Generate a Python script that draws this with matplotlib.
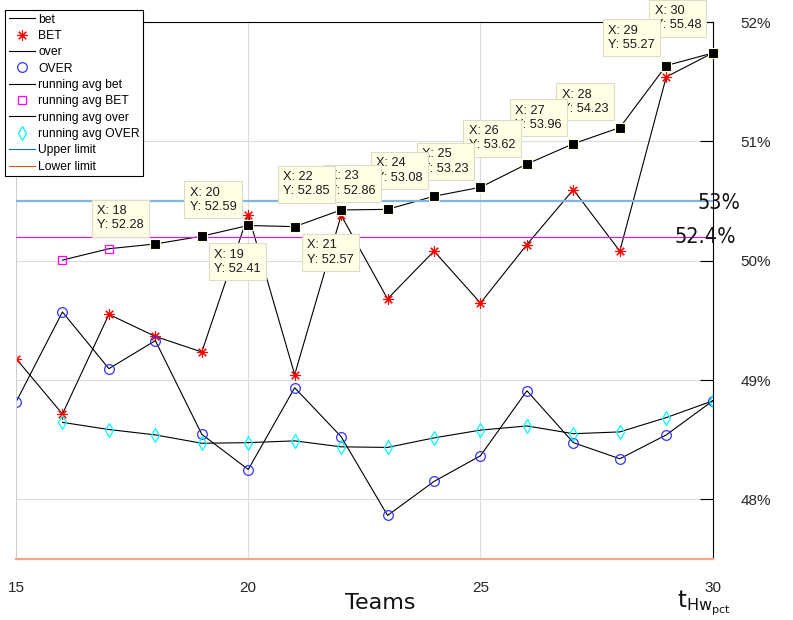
import matplotlib
matplotlib.use('Agg')
import matplotlib.pyplot as plt
from matplotlib.lines import Line2D

# ---------------- data ----------------
teams = list(range(15, 31))
bet = [50.36, 49.43, 51.10, 50.73, 50.47, 52.77, 50.09, 52.76,
       51.36, 52.16, 51.29, 52.27, 53.19, 52.16, 55.08, 55.48]
over = [49.63, 51.14, 50.19, 50.66, 49.09, 48.50, 49.87, 49.05,
        47.73, 48.30, 48.73, 49.82, 48.95, 48.68, 49.08, 49.65]
avg_teams = list(range(16, 31))
run_avg_bet = [52.01, 52.20, 52.28, 52.41, 52.59, 52.57, 52.85, 52.86,
               53.08, 53.23, 53.62, 53.96, 54.23, 55.27, 55.48]
run_avg_over = [49.29, 49.17, 49.08, 48.94, 48.95, 48.98, 48.88, 48.87,
                49.03, 49.16, 49.23, 49.10, 49.13, 49.37, 49.65]
tip_teams = list(range(18, 31))
upper_limit = 53.0
lower_limit = 47.0
mid_level = 52.4
x_ticks = [15, 20, 25, 30]
right_ticks = [48, 49, 50, 51, 52]
right_labels = ['48%', '49%', '50%', '51%', '52%']
legend_labels = ['bet', 'BET', 'over', 'OVER', 'running avg bet',
                 'running avg BET', 'running avg over', 'running avg OVER',
                 'Upper limit', 'Lower limit']

plt.rcParams['font.family'] = ['Liberation Sans', 'DejaVu Sans']
plt.rcParams['mathtext.fontset'] = 'dejavusans'

W, H = 793, 620
fig = plt.figure(figsize=(W / 100, H / 100), dpi=100)
ax_l, ax_r, ax_t, ax_b = 16, 712.7, 22, 559
rect = [ax_l / W, (H - ax_b) / H, (ax_r - ax_l) / W, (ax_b - ax_t) / H]
ax2 = fig.add_axes(rect)
ax = fig.add_axes(rect, sharex=ax2)
ax.set_zorder(ax2.get_zorder() + 1)
ax.patch.set_visible(False)

# ---------------- background axis (right labels + grid) ----------------
ax2.set_ylim(47.5, 52)
ax2.set_yticks(right_ticks)
ax2.set_yticklabels(right_labels)
ax2.yaxis.tick_right()
ax2.tick_params(axis='y', direction='in', length=9.5, width=0.8, color='black',
                labelsize=11, labelcolor='#262626', pad=20)
ax2.tick_params(axis='x', length=0, labelbottom=False)
ax2.grid(axis='y', color='#dcdcdc', lw=0.8)
ax2.grid(axis='x', color='#dcdcdc', lw=0.8)
for s in ax2.spines.values():
    s.set_visible(False)

# ---------------- main axis ----------------
ax.set_xlim(15, 30)
ax.set_ylim(47, 56)
ax.set_xticks(x_ticks)
ax.set_xticklabels([str(t) for t in x_ticks])
ax.set_yticks([])
ax.tick_params(axis='x', length=0, labelsize=11, labelcolor='#262626', pad=15.5)
ax.spines['left'].set_color('#d0d0d0')
ax.spines['left'].set_linewidth(0.8)
ax.spines['top'].set_color('black')
ax.spines['top'].set_linewidth(0.8)
ax.spines['right'].set_color('black')
ax.spines['right'].set_linewidth(0.8)
ax.spines['bottom'].set_visible(False)

star = (8, 2, 0)
h_bet, = ax.plot(teams, bet, color='black', lw=0.8)
h_BET, = ax.plot(teams, bet, ls='none', marker=star, color='red', ms=7.5, mew=0.8)
h_over, = ax.plot(teams, over, color='black', lw=0.8)
h_OVER, = ax.plot(teams, over, ls='none', marker='o', mfc='none', mec='#3333ff',
                  ms=7, mew=0.9)
h_rab, = ax.plot(avg_teams, run_avg_bet, color='black', lw=0.8)
h_RAB, = ax.plot(avg_teams, run_avg_bet, ls='none', marker='s', mfc='none',
                 mec='magenta', ms=5.5, mew=0.9)
h_rao, = ax.plot(avg_teams, run_avg_over, color='black', lw=0.8)
h_RAO, = ax.plot(avg_teams, run_avg_over, ls='none', marker='d', mfc='none',
                 mec='cyan', ms=7.5, mew=0.9)
ax.axhline(upper_limit, color='#80b6e0', lw=1.6, zorder=3)
ax.axhline(lower_limit, color='#f0a88a', lw=1.6, zorder=3, clip_on=False)
ax.axhline(mid_level, color='magenta', lw=0.8, zorder=3)

ax.annotate('53%', xy=(29.67, upper_limit), xytext=(0, -7.6),
            textcoords='offset pixels', ha='left', va='baseline',
            fontsize=15.5, family='DejaVu Sans', fontstretch='condensed',
            color='#111111', annotation_clip=False, zorder=4)
ax.annotate('52.4%', xy=(29.18, mid_level), xytext=(0, -6),
            textcoords='offset pixels', ha='left', va='baseline',
            fontsize=15.5, family='DejaVu Sans', fontstretch='condensed',
            color='#111111', annotation_clip=False, zorder=4)

# ---------------- data tips ----------------
tip_vals = [run_avg_bet[avg_teams.index(t)] for t in tip_teams]
ax.plot(tip_teams, tip_vals, ls='none', marker='s', mfc='black', mec='#ffffe1',
        ms=7.5, mew=0.8, zorder=20, clip_on=False)
below_right = {19, 21}
special = {29: (-6, -9), 30: (-6, -16)}
pad_px = 0.45 * 9 * 100 / 72
for t, v in zip(tip_teams, tip_vals):
    txt = 'X: %d\nY: %.2f' % (t, v)
    if t in below_right:
        dx, dy = 7, 7
        off = (dx + pad_px, -dy - pad_px)
        ha, va = 'left', 'top'
    else:
        dx, dy = special.get(t, (-6, -7))
        off = (dx - pad_px, -dy + pad_px)
        ha, va = 'right', 'bottom'
    ax.annotate(txt, xy=(t, v), xytext=off, textcoords='offset pixels',
                ha=ha, va=va, multialignment='left', fontsize=9.2,
                color='#1a1a1a', linespacing=1.25,
                bbox=dict(boxstyle='square,pad=0.42', fc='#ffffe6',
                          ec='#dcdcc8', lw=0.8),
                annotation_clip=False, zorder=60 - t)

# ---------------- labels ----------------
fig.text(380 / W, 1 - 603 / H, 'Teams', ha='center', va='center',
         fontsize=16, family='DejaVu Sans', color='#111111')
fig.text(677 / W, 1 - 607 / H, r'$\mathrm{t_{Hw_{pct}}}$', ha='left',
         va='baseline', fontsize=16.5, color='#111111')

# ---------------- legend ----------------
h_up = Line2D([], [], color='#0072bd', lw=0.8)
h_lo = Line2D([], [], color='#d95319', lw=0.8)
handles = [h_bet, h_BET, h_over, h_OVER, h_rab, h_RAB, h_rao, h_RAO, h_up, h_lo]
leg = fig.legend(handles, legend_labels, loc='upper left',
                 bbox_to_anchor=(5 / W, 1 - 10 / H), fontsize=8.7,
                 handlelength=2.2, handletextpad=0.25, labelspacing=0.36,
                 borderpad=0.3, borderaxespad=0, fancybox=False,
                 framealpha=1, edgecolor='black', numpoints=1)
leg.get_frame().set_linewidth(0.8)

fig.savefig('out.png', dpi=100)
